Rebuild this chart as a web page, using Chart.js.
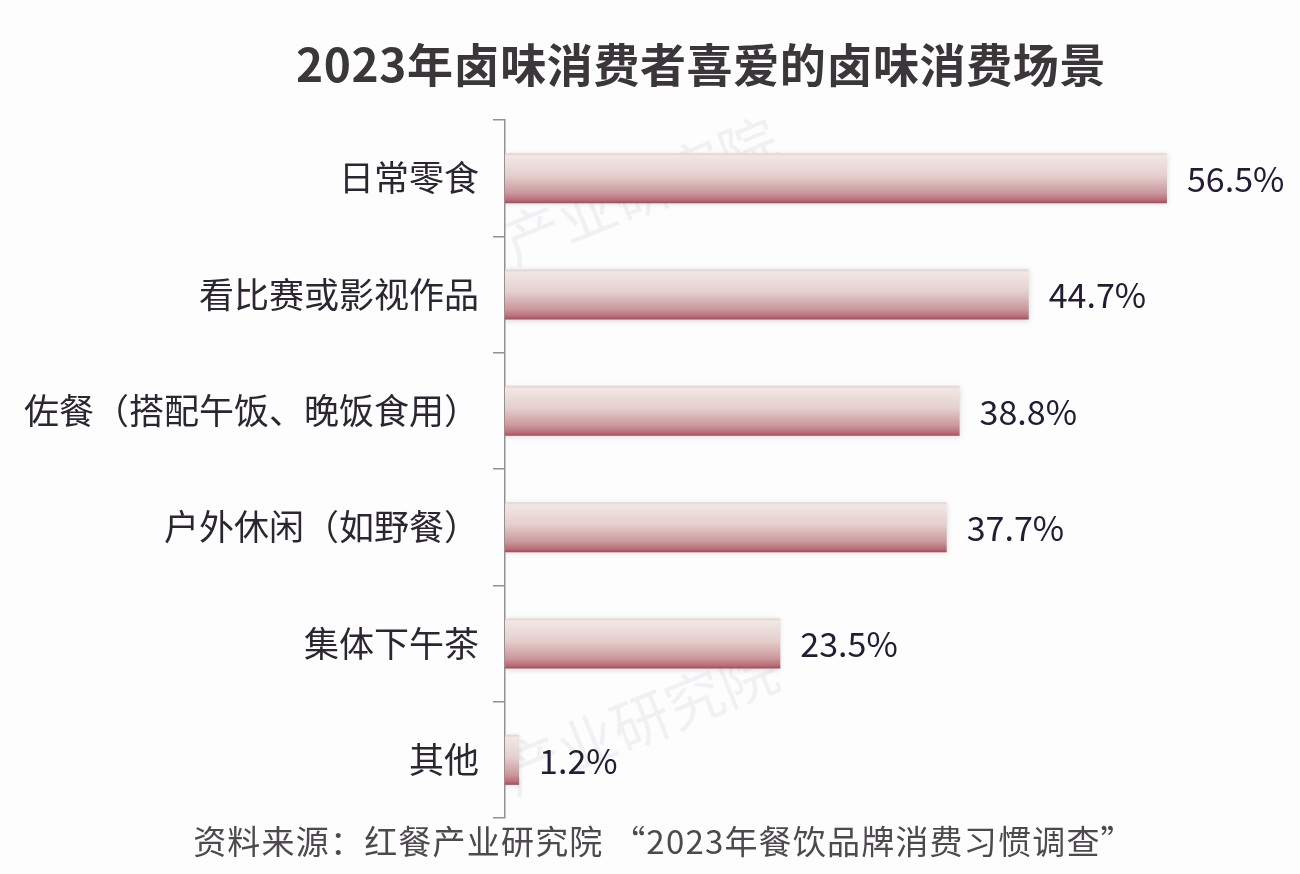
<!DOCTYPE html>
<html>
<head>
<meta charset="utf-8">
<script src="https://cdn.jsdelivr.net/npm/chart.js@4/dist/chart.umd.min.js"></script>
<style>
	html, body { margin: 0; padding: 0; background: #fdfdfe; }
	#wrap { position: relative; width: 1300px; height: 874px; font-family: "Noto Sans CJK SC", "Noto Sans", sans-serif; }
	#title { position: absolute; top: 30px; left: 701px; transform: translateX(-50%); white-space: nowrap;
		font-size: 46px; font-weight: 700; color: #3b3639; line-height: 64px; letter-spacing: 0.6px; }
	#source { position: absolute; top: 816px; left: 664px; transform: translateX(-50%); white-space: nowrap;
		font-size: 33px; color: #4d4a4d; line-height: 48px; letter-spacing: 1.2px; }
	.mark { position: absolute; white-space: nowrap; font-size: 58px; color: rgba(140, 140, 150, 0.10);
		transform: rotate(-22deg); transform-origin: left center; }
	#chart { position: absolute; left: 0; top: 0; }
</style>
</head>
<body>
<div id="wrap">
	<div class="mark" style="left: 505px; top: 200px;">产业研究院</div>
	<div class="mark" style="left: 505px; top: 730px;">产业研究院</div>
	<canvas id="chart" width="1300" height="874"></canvas>
	<div id="title">2023年卤味消费者喜爱的卤味消费场景</div>
	<div id="source">资料来源：红餐产业研究院 “2023年餐饮品牌消费习惯调查”</div>
</div>
<script>
var scenes = ['日常零食', '看比赛或影视作品', '佐餐（搭配午饭、晚饭食用）', '户外休闲（如野餐）', '集体下午茶', '其他'];
var shares = [56.5, 44.7, 38.8, 37.7, 23.5, 1.2];
var shareLabels = ['56.5%', '44.7%', '38.8%', '37.7%', '23.5%', '1.2%'];

var fontFamily = '"Noto Sans CJK SC", "Noto Sans", sans-serif';

function barFill(ctx) {
	var chart = ctx.chart;
	var yScale = chart.scales ? chart.scales.y : null;
	if (!chart.chartArea || !yScale || ctx.dataIndex === undefined) {
		return '#dcc3c3';
	}
	var cy = yScale.getPixelForValue(ctx.dataIndex);
	var half = 25;
	var g = chart.ctx.createLinearGradient(0, cy - half, 0, cy + half);
	g.addColorStop(0, '#ddd3d2');
	g.addColorStop(0.06, '#f1e7e5');
	g.addColorStop(0.45, '#e4cfcd');
	g.addColorStop(0.8, '#c9979c');
	g.addColorStop(0.94, '#b96c77');
	g.addColorStop(1, '#a94757');
	return g;
}

var valueLabels = {
	id: 'valueLabels',
	beforeDatasetDraw: function(chart) {
		var c = chart.ctx;
		c.save();
		c.shadowColor = 'rgba(60, 40, 40, 0.18)';
		c.shadowBlur = 5;
		c.shadowOffsetY = 1;
	},
	afterDatasetDraw: function(chart) {
		chart.ctx.restore();
	},
	afterDatasetsDraw: function(chart) {
		var c = chart.ctx;
		var meta = chart.getDatasetMeta(0);
		c.save();
		c.font = '34px ' + fontFamily;
		c.fillStyle = '#231c33';
		c.textAlign = 'left';
		c.textBaseline = 'middle';
		meta.data.forEach(function(bar, i) {
			c.fillText(shareLabels[i], bar.x + 20, bar.y + 1);
		});
		c.restore();
	}
};

var ctx = document.getElementById('chart');

var barChart = new Chart(ctx, {
	type: 'bar',
	data: {
		labels: scenes,
		datasets: [{
			data: shares,
			backgroundColor: barFill,
			borderWidth: 0,
			barPercentage: 0.43,
			categoryPercentage: 1
		}]
	},
	options: {
		indexAxis: 'y',
		responsive: false,
		animation: false,
		layout: { padding: { left: 0, right: 10, top: 120, bottom: 56 } },
		plugins: {
			legend: { display: false },
			tooltip: { enabled: false }
		},
		scales: {
			x: {
				display: false,
				min: 0,
				max: 67
			},
			y: {
				afterFit: function(scale) { scale.width = 505; },
				grid: {
					offset: true,
					drawOnChartArea: false,
					drawTicks: true,
					tickLength: 12,
					color: '#919191',
					lineWidth: 1.5
				},
				border: { display: true, color: '#919191', width: 1.5 },
				ticks: {
					padding: 14,
					color: '#2b2630',
					font: { family: fontFamily, size: 35 }
				}
			}
		}
	},
	plugins: [valueLabels]
});
</script>
</body>
</html>
